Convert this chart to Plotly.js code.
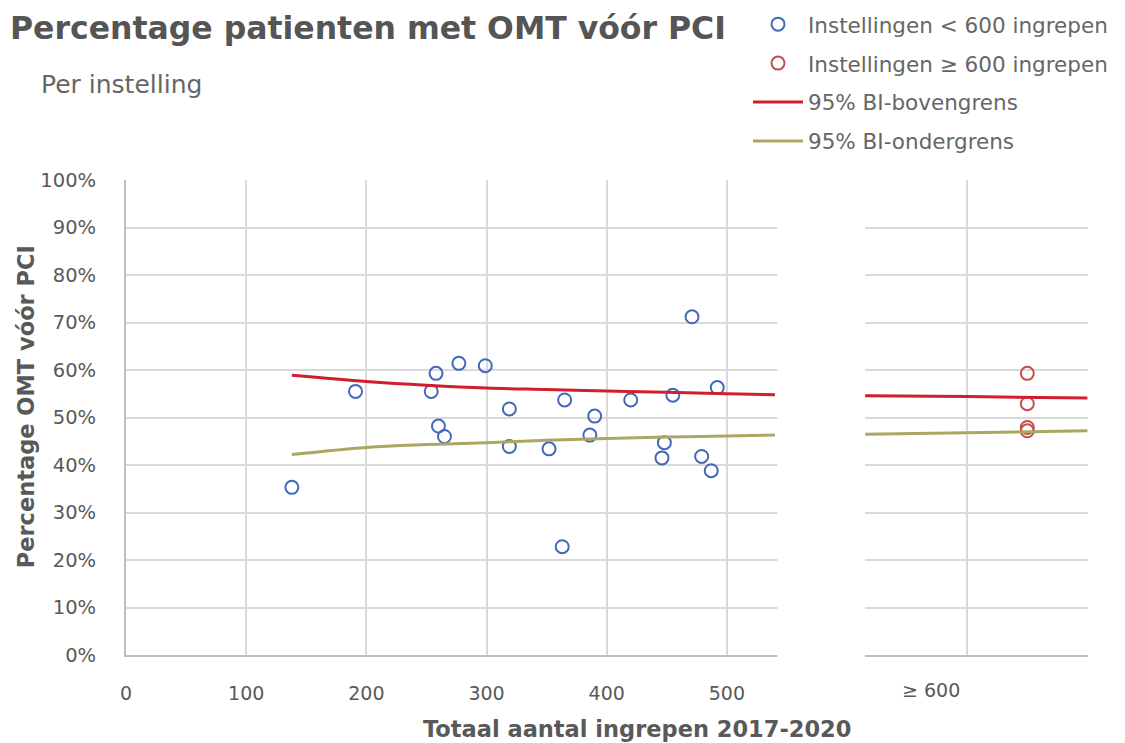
<!DOCTYPE html>
<html>
<head>
<meta charset="utf-8">
<script src="https://cdn.plot.ly/plotly-3.0.1.min.js"></script>
<style>html,body{margin:0;padding:0;background:#fff;}#chart{width:1125px;height:743px;}</style>
</head>
<body>
<div id="chart"></div>
<script>
// Institutions < 600 procedures
const smallX = [138, 191, 254, 258, 277, 299, 260, 265, 319, 319, 352, 365, 363, 386, 390, 420, 448, 446, 455, 471, 492, 479, 487];
const smallY = [35.3, 55.5, 55.5, 59.3, 61.4, 60.9, 48.2, 46.0, 51.8, 43.9, 43.4, 53.7, 22.8, 46.3, 50.3, 53.7, 44.7, 41.5, 54.7, 71.2, 56.3, 41.8, 38.8];
// Institutions >= 600 procedures
const largeX = [750, 750, 750, 750];
const largeY = [59.3, 52.9, 47.9, 47.2];
// 95% confidence limits
const ciX = [138, 200, 250, 300, 350, 400, 450, 500, 540, null, 615, 700, 800];
const ciUpper = [58.9, 57.6, 56.8, 56.2, 55.9, 55.6, 55.3, 55.0, 54.8, null, 54.6, 54.4, 54.1];
const ciLower = [42.2, 43.7, 44.3, 44.7, 45.2, 45.6, 45.9, 46.1, 46.3, null, 46.5, 46.8, 47.2];
// tick labels
const xTickVals = [0, 100, 200, 300, 400, 500, 600, 700, 800];
const xTickText = ['0', '100', '200', '300', '400', '500', '', '', ''];
const yTickVals = [0, 10, 20, 30, 40, 50, 60, 70, 80, 90, 100];
const yTickText = ['0%', '10%', '20%', '30%', '40%', '50%', '60%', '70%', '80%', '90%', '100%'];

const FONT = '"DejaVu Sans", sans-serif';
const GREY = '#595959';
const PL = 126, PW = 962, PB = 88, PH = 475.5;
const px = v => (v - PL) / PW;            // container px -> paper x
const py = v => (743 - v - PB) / PH;      // container px -> paper y

const traces = [
  {x: smallX, y: smallY, type: 'scatter', mode: 'markers', name: 'Instellingen < 600 ingrepen',
   legendgroup: 'a',
   marker: {symbol: 'circle-open', size: 13, color: '#4368B8', line: {width: 2, color: '#4368B8'}}},
  {x: largeX, y: largeY, type: 'scatter', mode: 'markers', name: 'Instellingen ≥ 600 ingrepen',
   legendgroup: 'b',
   marker: {symbol: 'circle-open', size: 13, color: '#C0504D', line: {width: 2, color: '#C0504D'}}},
  {x: ciX, y: ciUpper, type: 'scatter', mode: 'lines', name: '95% BI-bovengrens', legendgroup: 'c',
   connectgaps: false, line: {color: '#D01E2C', width: 3, shape: 'spline'}},
  {x: ciX, y: ciLower, type: 'scatter', mode: 'lines', name: '95% BI-ondergrens', legendgroup: 'd',
   connectgaps: false, line: {color: '#ABA762', width: 3, shape: 'spline'}}
];

const layout = {
  width: 1125, height: 743,
  margin: {l: PL, r: 37, t: 180, b: PB, autoexpand: false},
  paper_bgcolor: '#fff', plot_bgcolor: '#fff',
  font: {family: FONT, color: GREY, size: 19},
  title: {text: '<b>Percentage patienten met OMT vóór PCI</b>', x: 10/1125, xanchor: 'left', xref: 'container',
          y: 1 - 28/743, yanchor: 'middle', yref: 'container',
          font: {family: FONT, size: 31.5, color: '#555555'}},
  showlegend: true,
  legend: {xref: 'paper', yref: 'paper', x: px(748), xanchor: 'left', y: py(3), yanchor: 'top', itemwidth: 50,
           font: {family: FONT, size: 21.5, color: '#666666'}, tracegroupgap: 8, bgcolor: 'rgba(0,0,0,0)'},
  xaxis: {range: [0, 800.5], tickvals: xTickVals, ticktext: xTickText, showgrid: true, gridcolor: '#d9d9d9', gridwidth: 2,
          showline: true, linecolor: '#bfbfbf', linewidth: 2, zeroline: false, ticks: '', ticklabelstandoff: 20,
          tickfont: {family: FONT, size: 19, color: GREY}, fixedrange: true},
  yaxis: {range: [0, 100], tickvals: yTickVals, ticktext: yTickText, showgrid: true, gridcolor: '#d9d9d9', gridwidth: 2,
          showline: true, linecolor: '#bfbfbf', linewidth: 2, zeroline: false, ticks: '', ticklabelstandoff: 24,
          tickfont: {family: FONT, size: 19.5, color: GREY}, fixedrange: true},
  shapes: [
    {type: 'rect', xref: 'x', yref: 'paper', x0: 542, x1: 615, y0: -0.03, y1: 1.02,
     fillcolor: '#ffffff', line: {width: 0}, layer: 'above'}
  ],
  annotations: [
    {text: 'Per instelling', xref: 'paper', yref: 'paper', x: px(39), y: py(84), xanchor: 'left', yanchor: 'middle',
     showarrow: false, font: {family: FONT, size: 25, color: '#666666'}},
    {text: '≥ 600', xref: 'x', yref: 'paper', x: 670, y: py(690), xanchor: 'center', yanchor: 'middle',
     showarrow: false, font: {family: FONT, size: 19, color: GREY}},
    {text: '<b>Totaal aantal ingrepen 2017-2020</b>', xref: 'paper', yref: 'paper', x: px(637), y: py(729),
     xanchor: 'center', yanchor: 'middle', showarrow: false, font: {family: FONT, size: 22.5, color: GREY}},
    {text: '<b>Percentage OMT vóór PCI</b>', xref: 'paper', yref: 'paper', x: px(26), y: py(407),
     xanchor: 'center', yanchor: 'middle', textangle: -90, showarrow: false, font: {family: FONT, size: 22.5, color: GREY}}
  ]
};

Plotly.newPlot('chart', traces, layout, {displayModeBar: false, staticPlot: true});
</script>
</body>
</html>
